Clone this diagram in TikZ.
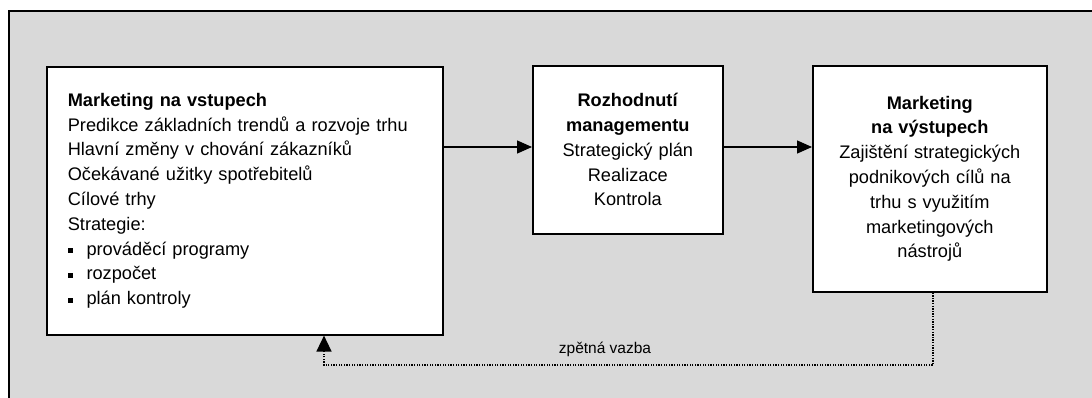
\documentclass[tikz,border=0pt]{standalone}
\usepackage{fontspec}
\setmainfont{Liberation Sans}
\usetikzlibrary{arrows.meta}
\definecolor{panel}{HTML}{D9D9D9}
\newcommand{\sqbullet}{\makebox[18.7pt][l]{\raisebox{1.8pt}{\rule{5.4pt}{5.4pt}}}}
\tikzset{
  box/.style={draw=black, line width=1.6pt, fill=white, inner sep=0pt,
    font=\fontsize{18.2}{24.8}\selectfont},
  flow/.style={line width=1.4pt, -{Triangle[length=15pt,width=13pt]}},
  feedback/.style={line width=1.5pt, dash pattern=on 1.3pt off 1.3pt,
    -{Triangle[length=16pt,width=15pt]}},
  lbl/.style={font=\fontsize{15.5}{18}\selectfont, inner sep=0pt},
}
\begin{document}
\begin{tikzpicture}[x=1pt,y=-1pt]
  \useasboundingbox (0,0) rectangle (1092,398);
  \clip (0,0) rectangle (1092,398);
  % grey panel, cropped at the right and bottom
  \draw[fill=panel, line width=2.4pt] (9,11) rectangle (1110,420);

  \node[box, anchor=north west, minimum width=396pt, minimum height=268pt,
        text width=354pt, align=left] (inputs) at (46,66)
    {\textbf{Marketing na vstupech}\\
     Predikce základních trendů a rozvoje trhu\\
     Hlavní změny v chování zákazníků\\
     Očekávané užitky spotřebitelů\\
     Cílové trhy\\
     Strategie:\\
     \sqbullet prováděcí programy\\
     \sqbullet rozpočet\\
     \sqbullet plán kontroly};

  \node[box, anchor=north west, minimum width=190pt, minimum height=168pt,
        text width=184pt, align=center] (mgmt) at (532,65)
    {\textbf{Rozhodnutí}\\
     \textbf{managementu}\\
     Strategický plán\\
     Realizace\\
     Kontrola};

  \node[box, anchor=north west, minimum width=234pt, minimum height=226pt,
        text width=226pt, align=center] (outputs) at (812,65)
    {\textbf{Marketing}\\
     \textbf{na výstupech}\\
     Zajištění strategických\\
     podnikových cílů na\\
     trhu s využitím\\
     marketingových\\
     nástrojů};

  \coordinate (join1) at (442,147);
  \draw[flow] (inputs.east |- join1) -- (mgmt.west |- join1);
  \draw[flow] (mgmt.east |- join1) -- (outputs.west |- join1);

  % feedback loop
  \coordinate (fbr) at (933,365);
  \coordinate (fbl) at (324,365);
  \draw[feedback] (fbr |- outputs.south) -- (fbr) -- (fbl) -- (fbl |- inputs.south);
  \node[lbl] (fblabel) at (605,349) {zpětná vazba};
\end{tikzpicture}
\end{document}
